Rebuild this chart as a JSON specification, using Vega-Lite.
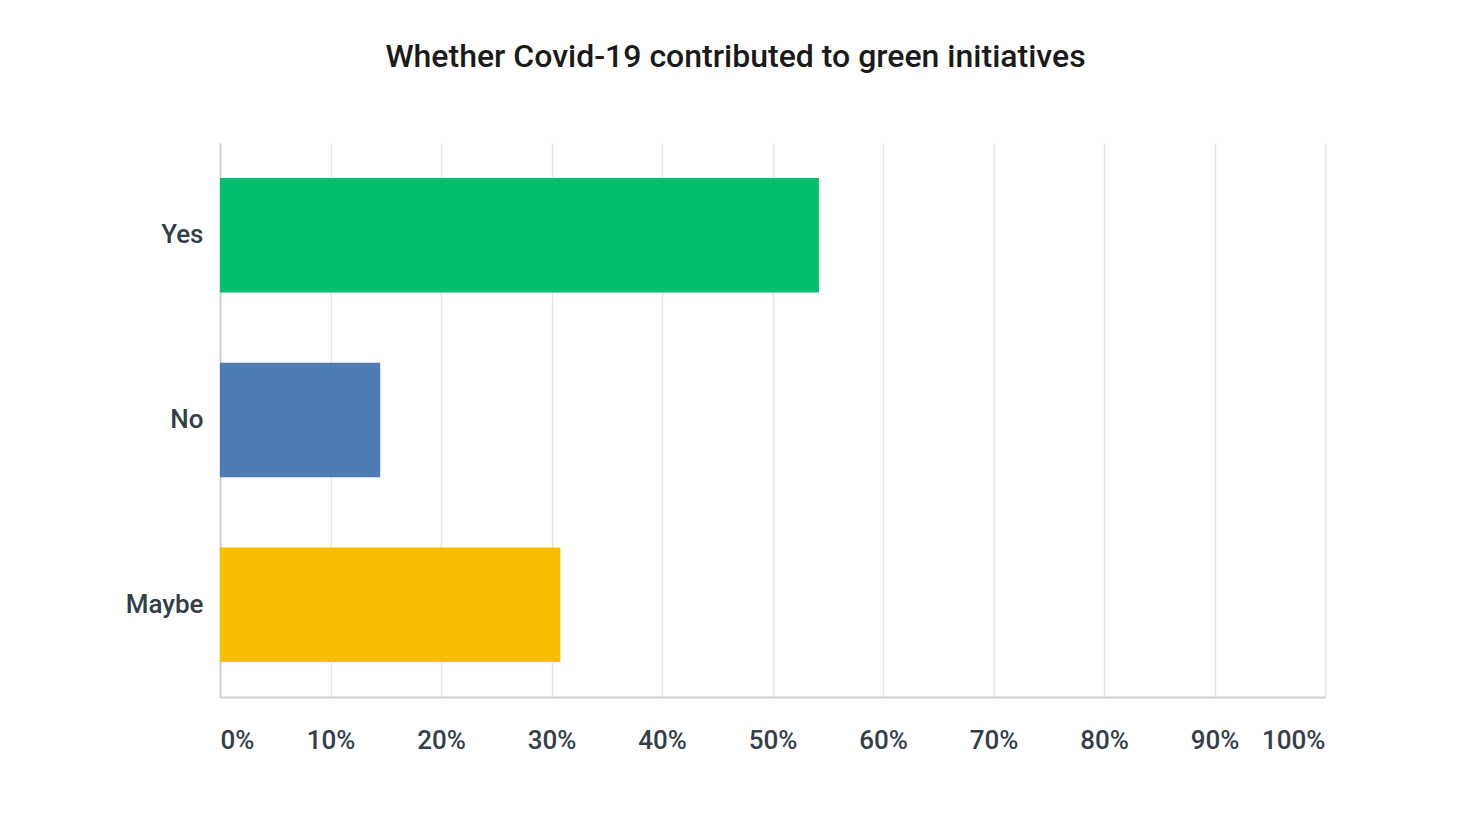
{
  "$schema": "https://vega.github.io/schema/vega-lite/v6.json",
  "description": "Whether Covid-19 contributed to green initiatives",
  "autosize": "none",
  "width": 1105,
  "height": 554,
  "padding": {"left": 220, "top": 143, "right": 145, "bottom": 126},
  "background": "white",
  "config": {"view": {"stroke": null}},
  "title": {
    "text": "Whether Covid-19 contributed to green initiatives",
    "font": "Roboto",
    "fontSize": 32,
    "fontWeight": 500,
    "color": "#1a1a1a",
    "anchor": "middle",
    "dx": -37,
    "offset": 69
  },
  "data": {
    "values": [
      {"answer": "Yes", "share": 0.542},
      {"answer": "No", "share": 0.145},
      {"answer": "Maybe", "share": 0.308}
    ]
  },
  "mark": {"type": "bar"},
  "encoding": {
    "y": {
      "field": "answer",
      "type": "nominal",
      "sort": ["Yes", "No", "Maybe"],
      "scale": {"paddingInner": 0.38, "paddingOuter": 0.19},
      "axis": {
        "title": null,
        "ticks": false,
        "domainColor": "#d0d0d0",
        "domainWidth": 2,
        "labelFont": "Roboto",
        "labelFontSize": 26,
        "labelFontWeight": 500,
        "labelColor": "#333e48",
        "labelPadding": 17
      }
    },
    "x": {
      "field": "share",
      "type": "quantitative",
      "scale": {"domain": [0, 1], "nice": false},
      "axis": {
        "title": null,
        "format": ".0%",
        "values": [0, 0.1, 0.2, 0.3, 0.4, 0.5, 0.6, 0.7, 0.8, 0.9, 1],
        "ticks": false,
        "grid": true,
        "gridColor": "#e6e6e6",
        "gridWidth": 1.5,
        "domainColor": "#d0d0d0",
        "domainWidth": 2,
        "labelFlush": true,
        "labelFont": "Roboto",
        "labelFontSize": 26,
        "labelFontWeight": 500,
        "labelColor": "#333e48",
        "labelPadding": 30
      }
    },
    "color": {
      "field": "answer",
      "type": "nominal",
      "scale": {
        "domain": ["Yes", "No", "Maybe"],
        "range": ["#00bf6f", "#507cb6", "#f9be00"]
      },
      "legend": null
    }
  }
}
